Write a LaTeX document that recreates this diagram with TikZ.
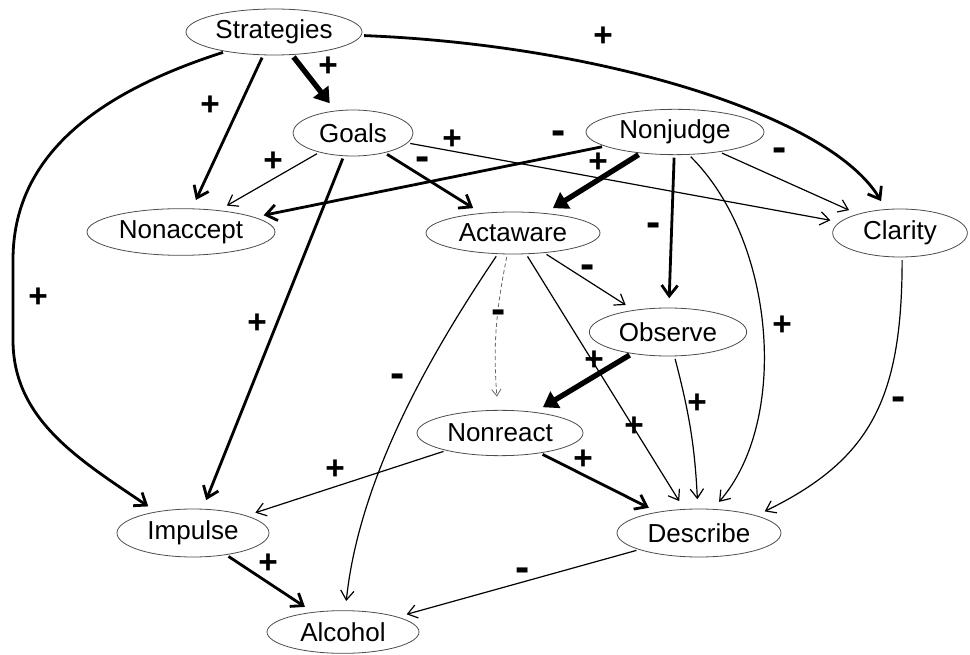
\documentclass[tikz,border=0pt]{standalone}
\usepackage{fontspec}
\setmainfont{Liberation Sans}
\usetikzlibrary{arrows.meta, shapes.geometric}

\tikzset{
  var/.style={ellipse, draw=black!70, line width=0.6pt, inner sep=0pt,
    font=\fontsize{19.5}{23}\selectfont},
  sign/.style={inner sep=0pt, font=\fontsize{25}{27}\selectfont\bfseries},
  negsign/.style={sign, font=\fontsize{32}{34}\selectfont\bfseries},
  lnk/.style={-{Straight Barb[length=7pt,width=10pt]}, line width=0.9pt,
    shorten >=7pt, shorten <=2pt},
  lnkmid/.style={lnk, -{Straight Barb[length=8pt,width=12pt]}, line width=2.1pt},
  lnkbig/.style={lnk, -{Triangle[length=11pt,width=14pt]}, line width=4pt},
  lnkdash/.style={lnk, -{Straight Barb[length=5pt,width=7pt]}, draw=black!60,
    line width=0.6pt, dash pattern=on 3pt off 2pt, shorten >=10pt},
}

\begin{document}
\begin{tikzpicture}[x=0.75pt, y=-0.75pt]
\useasboundingbox (0,0) rectangle (970,655);

% ---------------- variables ----------------
\node[var, minimum width=132pt, minimum height=34.5pt] (strat) at (274,32) {Strategies};
\node[var, minimum width=90pt, minimum height=34.5pt] (goals) at (353,133) {Goals};
\node[var, minimum width=133.5pt, minimum height=34pt] (nonjudge) at (675,132) {Nonjudge};
\node[var, minimum width=141pt, minimum height=35pt] (nonaccept) at (181,232) {Nonaccept};
\node[var, minimum width=130.5pt, minimum height=31.5pt] (actaware) at (513,233) {Actaware};
\node[var, minimum width=101pt, minimum height=36pt] (clarity) at (900,233) {Clarity};
\node[var, minimum width=118pt, minimum height=36pt] (observe) at (668,332) {Observe};
\node[var, minimum width=124.5pt, minimum height=34pt] (nonreact) at (500,433) {Nonreact};
\node[var, minimum width=114pt, minimum height=36pt] (impulse) at (193,533) {Impulse};
\node[var, minimum width=114pt, minimum height=32pt] (alcohol) at (343,632) {Alcohol};
\node[var, minimum width=123pt, minimum height=36pt] (describe) at (699,533) {Describe};

% ---------------- straight paths ----------------
\foreach \a/\b in {goals/nonaccept, goals/clarity, nonjudge/clarity, actaware/observe,
    actaware/describe, nonreact/impulse, describe/alcohol}
  \draw[lnk] (\a) -- (\b);
\foreach \a/\b in {strat/nonaccept, goals/impulse, goals/actaware, nonjudge/nonaccept,
    nonjudge/observe, nonreact/describe, impulse/alcohol}
  \draw[lnkmid] (\a) -- (\b);
\foreach \a/\b in {strat/goals, nonjudge/actaware, observe/nonreact}
  \draw[lnkbig] (\a) -- (\b);

% ---------------- curved paths ----------------
\draw[lnkmid] (strat.202) .. controls (90,95) and (13,160) .. (13,260) -- (13,340)
  .. controls (13,420) and (80,460) .. (impulse.150);
\draw[lnkmid] (strat) .. controls (600,45) and (830,115) .. (clarity);
\draw[lnk] (nonjudge.-59) .. controls (775,240) and (790,420) .. (describe.60);
\draw[lnk] (actaware.234) .. controls (440,340) and (360,470) .. (alcohol);
\draw[lnk] (clarity.-85) .. controls (902,400) and (870,460) .. (describe.17);
\draw[lnk] (observe) to[bend left=6] (describe);
\draw[lnkdash] (actaware.255) to[bend right=8] (nonreact.95);

% ---------------- signs ----------------
\foreach \px/\py [count=\i] in {328/67, 210/106, 38/298, 603/37, 273/162, 452/140,
    257/324, 598/163, 782/326, 634/427, 594/361, 697/404, 335/470, 583/460, 268/564}
  \node[sign] (pos\i) at (\px,\py) {+};
\foreach \px/\py [count=\i] in {423/164, 559/138, 780/155, 654/230, 588/272, 499/317,
    398/381, 899/404, 523/575}
  \node[negsign] (neg\i) at (\px,\py) {-};

\end{tikzpicture}
\end{document}
